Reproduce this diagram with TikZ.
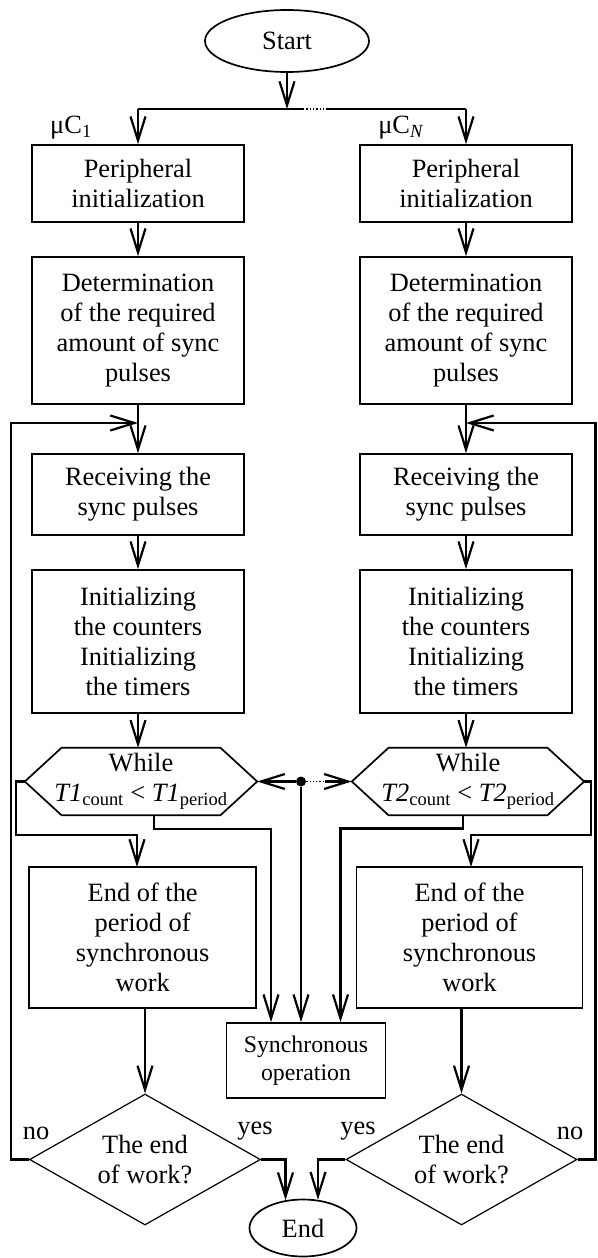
\documentclass[tikz,border=0pt]{standalone}
\usepackage{fontspec}
\setmainfont{Liberation Serif}
\usetikzlibrary{arrows.meta,shapes.geometric}

\begin{document}
\begin{tikzpicture}[x=1pt,y=-1pt,
  txt/.style={font=\fontsize{26.4}{30}\selectfont, align=center, inner sep=0pt},
  box/.style={txt, draw, rectangle, line width=1.7pt, minimum width=212pt},
  oval/.style={txt, draw, ellipse, line width=1.7pt},
  decide/.style={txt, draw, diamond, line width=1.2pt, minimum width=231pt,
    minimum height=131pt, shape aspect=1.76},
  hexline/.style={line width=1.7pt, line join=miter},
  link/.style={line width=2.2pt},
  arr/.style={link, -{Straight Barb[length=24pt,width=15pt]}},
  fine/.style={line width=1.3pt, dotted},
  lab/.style={font=\fontsize{26.4}{30}\selectfont, inner sep=0pt},
]
\fill[white] (0,0) rectangle (597,1258);
\useasboundingbox (0,0) rectangle (597,1258);

% terminals
\node[oval, minimum width=164pt, minimum height=62pt] (start) at (287,41) {Start};
\node[oval, minimum width=107pt, minimum height=57pt] (end) at (303,1228) {End};

% controller labels
\node[lab] (mu1) at (71,128) {μC\textsubscript{1}};
\node[lab] (muN) at (401,128) {μC\textsubscript{\textit{N}}};

% left branch
\node[box, minimum height=77pt]  (p1) at (138,183.5) {Peripheral\\initialization};
\node[box, minimum height=147pt] (d1) at (138,330.5) {Determination\\of the required\\amount of sync\\pulses};
\node[box, minimum height=81pt]  (r1) at (138,494.5) {Receiving the\\sync pulses};
\node[box, minimum height=143pt] (i1) at (138,641.5) {Initializing\\the counters\\Initializing\\the timers};
\node[txt, minimum width=232pt, minimum height=67pt] (w1) at (141,781.5)
  {While\\\textit{T1}\textsubscript{count} < \textit{T1}\textsubscript{period}};
\node[box, minimum width=227pt, minimum height=141pt] (e1) at (142.7,937.7) {End of the\\period of\\synchronous\\work};
\node[decide] (q1) at (145,1159.5) {The end\\of work?};

% right branch
\node[box, minimum height=77pt]  (p2) at (466,183.5) {Peripheral\\initialization};
\node[box, minimum height=147pt] (d2) at (466,330.5) {Determination\\of the required\\amount of sync\\pulses};
\node[box, minimum height=81pt]  (r2) at (466,494.5) {Receiving the\\sync pulses};
\node[box, minimum height=143pt] (i2) at (466,641.5) {Initializing\\the counters\\Initializing\\the timers};
\node[txt, minimum width=232pt, minimum height=67pt] (w2) at (468,781.5)
  {While\\\textit{T2}\textsubscript{count} < \textit{T2}\textsubscript{period}};
\node[box, minimum width=226pt, minimum height=141pt] (e2) at (469.5,937.7) {End of the\\period of\\synchronous\\work};
\node[decide] (q2) at (461.5,1159.5) {The end\\of work?};

% shared block
\node[box, font=\fontsize{23.8}{28}\selectfont, minimum width=159pt, minimum height=75pt]
  (sync) at (306,1060.5) {Synchronous\\operation};

% hexagon outlines of the loop conditions
\foreach \w in {w1,w2}{
  \draw[hexline] (\w.west) -- ([xshift=36.7pt]\w.north west) -- ([xshift=-36.7pt]\w.north east)
    -- (\w.east) -- ([xshift=-36.7pt]\w.south east) -- ([xshift=36.7pt]\w.south west) -- cycle;
}

% branch labels
\node[lab] (no1)  at (36,1133)  {no};
\node[lab] (yes1) at (255,1131) {yes};
\node[lab] (yes2) at (358,1131) {yes};
\node[lab] (no2)  at (570,1133) {no};

% fork after start
\coordinate (sp)  at (287,109);
\coordinate (spa) at (303,109);
\coordinate (spb) at (327,109);
\draw[arr] (start.south) -- (sp);
\draw[link] (p1.north |- sp) -- (spa);
\draw[fine] (spa) -- (spb);
\draw[link] (spb) -- (p2.north |- sp);
\draw[arr] (p1.north |- sp) -- (p1.north);
\draw[arr] (p2.north |- sp) -- (p2.north);

% straight chains
\draw[arr] (p1) -- (d1);
\draw[arr] (d1) -- (r1);
\draw[arr] (r1) -- (i1);
\draw[arr] (i1.south) -- (i1.south |- w1.north);
\draw[arr] (p2) -- (d2);
\draw[arr] (d2) -- (r2);
\draw[arr] (r2) -- (i2);
\draw[arr] (i2.south) -- (i2.south |- w2.north);

% return loops
\coordinate (loopL) at (11,423);
\coordinate (joinL) at (138,423);
\coordinate (loopR) at (595.5,423);
\coordinate (joinR) at (466,423);
\draw[arr] (q1.west) -| (loopL) -- (joinL);
\draw[arr] (q2.east) -| (loopR) -- (joinR);

% loop exits to end of period
\coordinate (hl)   at (16,835);
\coordinate (e1in) at (137,867);
\coordinate (hr)   at (591,835);
\coordinate (e2in) at (471,867);
\draw[arr] (w1.west) -| (hl) -| (e1in);
\draw[arr] (w2.east) -| (hr) -| (e2in);

% loop bodies to synchronous operation
\coordinate (sl) at (271,829);
\coordinate (sr) at (340.5,828.5);
\draw[arr] ([xshift=13pt]w1.south) |- (sl) -- (sl |- sync.north);
\draw[arr] ([xshift=-5.3pt]w2.south) |- (sr) -- (sr |- sync.north);

% synchronisation hub
\node[circle, fill, inner sep=0pt, minimum size=10pt] (hub) at (301,781.5) {};
\coordinate (hd) at (325,781.5);
\draw[arr] (hub) -- (w1.east);
\draw[fine] (hub) -- (hd);
\draw[arr] (hd) -- (w2.west);
\draw[arr] (hub) -- (hub |- sync.north);

% to decisions
\draw[arr] (q1.north |- e1.south) -- (q1.north);
\draw[arr] (q2.north |- e2.south) -- (q2.north);

% to end
\coordinate (yl) at (285.5,1159.5);
\coordinate (yr) at (318,1159.5);
\draw[arr] (q1.east) -- (yl) -- ([yshift=-1.5pt]yl |- end.north);
\draw[arr] (q2.west) -- (yr) -- ([yshift=-1pt]yr |- end.north);
\end{tikzpicture}
\end{document}
